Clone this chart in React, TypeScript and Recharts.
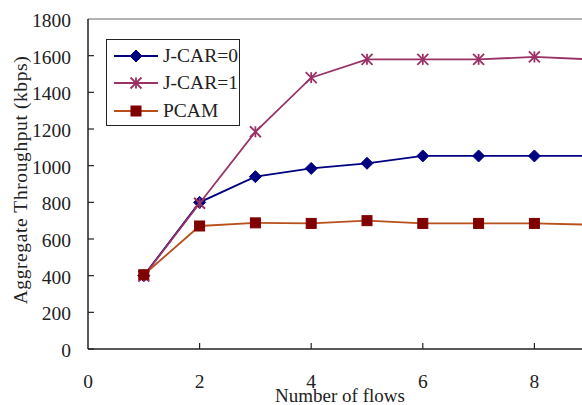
import { LineChart, Line, XAxis, YAxis, ReferenceLine, Legend } from "recharts";

const flows = [1, 2, 3, 4, 5, 6, 7, 8, 9];
const jcar0 = [400, 800, 940, 985, 1013, 1053, 1053, 1053, 1053];
const jcar1 = [398, 795, 1185, 1480, 1580, 1580, 1580, 1593, 1580];
const pcam = [405, 671, 688, 685, 700, 685, 685, 685, 678];
const xTicks = [0, 2, 4, 6, 8];
const yTicks = [0, 200, 400, 600, 800, 1000, 1200, 1400, 1600, 1800];

const data = flows.map((f, i) => ({
  flows: f,
  jcar0: jcar0[i],
  jcar1: jcar1[i],
  pcam: pcam[i],
}));

const FONT = '"Liberation Serif", "Times New Roman", serif';
const NAVY = "#000080";
const PLUM = "#993366";
const RUST = "#B8501C";
const MAROON = "#800000";

type Shape = "diamond" | "star" | "square";

function Marker({ cx, cy, shape, color }: { cx: number; cy: number; shape: Shape; color: string }) {
  if (cx == null || cy == null) return null;
  if (shape === "diamond") {
    const r = 6;
    return (
      <path
        d={`M${cx},${cy - r} L${cx + r},${cy} L${cx},${cy + r} L${cx - r},${cy} Z`}
        fill={color}
        stroke={color}
      />
    );
  }
  if (shape === "square") {
    const r = 5;
    return <rect x={cx - r} y={cy - r} width={r * 2} height={r * 2} fill={color} stroke={color} />;
  }
  const r = 5.5;
  return (
    <g stroke={color} strokeWidth={1.8}>
      <line x1={cx} y1={cy - r} x2={cx} y2={cy + r} />
      <line x1={cx - r} y1={cy - r} x2={cx + r} y2={cy + r} />
      <line x1={cx - r} y1={cy + r} x2={cx + r} y2={cy - r} />
    </g>
  );
}

const series: { key: string; name: string; line: string; mark: string; shape: Shape }[] = [
  { key: "jcar0", name: "J-CAR=0", line: NAVY, mark: NAVY, shape: "diamond" },
  { key: "jcar1", name: "J-CAR=1", line: PLUM, mark: PLUM, shape: "star" },
  { key: "pcam", name: "PCAM", line: RUST, mark: MAROON, shape: "square" },
];

function XTick(props: any) {
  const { x, y, payload } = props;
  return (
    <g>
      {payload.value !== 0 && <line x1={x} y1={y} x2={x} y2={y - 6} stroke="#222" strokeWidth={1.2} />}
      <text x={x} y={y + 39} textAnchor="middle" fontFamily={FONT} fontSize={19.5} fill="#222">
        {payload.value}
      </text>
    </g>
  );
}

function YTick(props: any) {
  const { x, y, payload } = props;
  return (
    <g>
      {payload.value !== 1800 && <line x1={x} y1={y} x2={x + 6} y2={y} stroke="#222" strokeWidth={1.2} />}
      <text x={x - 17} y={y + 8} textAnchor="end" fontFamily={FONT} fontSize={19.5} fill="#222">
        {payload.value}
      </text>
    </g>
  );
}

function LegendBox() {
  return (
    <div
      style={{
        border: "1.5px solid #222",
        background: "#fff",
        width: 132,
        padding: "2px 0 0 0",
        fontFamily: FONT,
        fontSize: 19.5,
        color: "#222",
      }}
    >
      {series.map((s) => (
        <div key={s.key} style={{ display: "flex", alignItems: "center", height: 27.5 }}>
          <svg width={56} height={20} style={{ marginLeft: 7 }}>
            <line x1={0} y1={10} x2={44} y2={10} stroke={s.line} strokeWidth={1.8} />
            <Marker cx={22} cy={10} shape={s.shape} color={s.mark} />
          </svg>
          <span style={{ marginLeft: -7 }}>{s.name}</span>
        </div>
      ))}
    </div>
  );
}

export default function App() {
  return (
    <div
      style={{
        position: "fixed",
        left: 0,
        top: 0,
        width: 582,
        height: 405,
        overflow: "hidden",
        background: "#fff",
      }}
    >
      <LineChart
        width={646}
        height={405}
        data={data}
        margin={{ top: 19, right: 0, left: 0, bottom: 0 }}
      >
        <ReferenceLine y={1800} stroke="#999" strokeWidth={1.5} />
        <XAxis
          dataKey="flows"
          type="number"
          domain={[0, 10]}
          ticks={xTicks}
          height={56}
          tickSize={0}
          tickMargin={0}
          tickLine={false}
          axisLine={{ stroke: "#222", strokeWidth: 1.5 }}
          tick={<XTick />}
          interval={0}
          label={{
            content: () => (
              <text x={340} y={402} textAnchor="middle" fontFamily={FONT} fontSize={19} fill="#222">
                Number of flows
              </text>
            ),
          }}
        />
        <YAxis
          type="number"
          domain={[0, 1800]}
          ticks={yTicks}
          width={88}
          tickSize={0}
          tickMargin={0}
          tickLine={false}
          axisLine={{ stroke: "#222", strokeWidth: 1.5 }}
          tick={<YTick />}
          interval={0}
          label={{
            content: () => (
              <text
                x={0}
                y={0}
                transform="translate(27,180) rotate(-90)"
                textAnchor="middle"
                fontFamily={FONT}
                fontSize={19.5}
                letterSpacing={0.6}
                fill="#222"
              >
                Aggregate Throughput (kbps)
              </text>
            ),
          }}
        />
        <Legend
          layout="vertical"
          align="center"
          verticalAlign="middle"
          content={() => <LegendBox />}
          wrapperStyle={{ left: 106, top: 39, width: "auto", height: "auto" }}
        />
        {series.map((s) => (
          <Line
            key={s.key}
            dataKey={s.key}
            name={s.name}
            stroke={s.line}
            strokeWidth={1.8}
            isAnimationActive={false}
            dot={(p: any) => <Marker key={`${s.key}-${p.index}`} cx={p.cx} cy={p.cy} shape={s.shape} color={s.mark} />}
            activeDot={false}
          />
        ))}
      </LineChart>
    </div>
  );
}
